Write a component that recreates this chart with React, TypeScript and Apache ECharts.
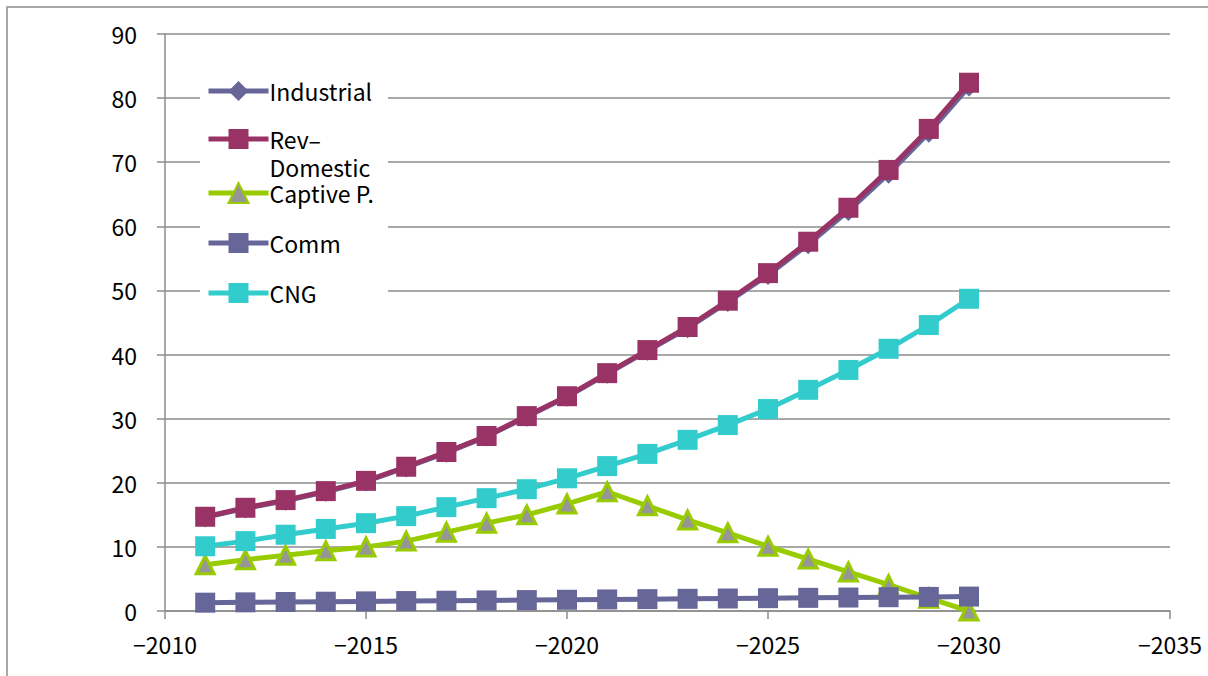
import React, { useEffect, useRef } from "react";
import * as echarts from "echarts";

const years = [2011, 2012, 2013, 2014, 2015, 2016, 2017, 2018, 2019, 2020, 2021, 2022, 2023, 2024, 2025, 2026, 2027, 2028, 2029, 2030];

const revDomestic = [14.7, 16.1, 17.3, 18.7, 20.3, 22.5, 24.8, 27.3, 30.4, 33.5, 37.1, 40.7, 44.3, 48.4, 52.7, 57.6, 62.9, 68.8, 75.2, 82.4];
const industrial = [14.6, 16.0, 17.2, 18.6, 20.2, 22.4, 24.7, 27.2, 30.3, 33.4, 37.0, 40.6, 44.1, 48.2, 52.4, 57.2, 62.4, 68.2, 74.6, 81.8];
const captive = [7.2, 8.0, 8.7, 9.4, 10.0, 10.9, 12.3, 13.7, 15.0, 16.7, 18.6, 16.4, 14.2, 12.2, 10.1, 8.1, 6.1, 4.1, 2.0, 0];
const comm = [1.3, 1.35, 1.4, 1.45, 1.5, 1.55, 1.6, 1.65, 1.7, 1.75, 1.8, 1.85, 1.9, 1.95, 2.0, 2.05, 2.1, 2.15, 2.2, 2.25];
const cng = [10.1, 10.9, 11.9, 12.8, 13.7, 14.8, 16.2, 17.6, 19.0, 20.7, 22.6, 24.5, 26.7, 29.0, 31.5, 34.5, 37.6, 40.9, 44.6, 48.7];

const seriesNames = ["Industrial", "Rev–\nDomestic", "Captive P.", "Comm", "CNG"];
// top offset and line height of each legend entry; the wrapped label gets a
// blank leading line so that its first line sits level with the icon
const legendTops = [78, 97, 180, 230, 280];
const legendLineHeights = [26, 28, 26, 26, 26];

const FONT = "'Noto Sans CJK JP', 'Noto Sans', sans-serif";

const pairs = (vals: number[]) => years.map((y, i) => [y, vals[i]]);

export default function App() {
  const ref = useRef<HTMLDivElement>(null);

  useEffect(() => {
    if (!ref.current) return;
    const chart = echarts.init(ref.current, null, { renderer: "svg" });

    const lineSeries = (
      name: string,
      vals: number[],
      color: string,
      symbol: string,
      symbolSize: number,
      fill?: string
    ) => ({
      name,
      type: "line",
      data: pairs(vals),
      symbol,
      symbolSize,
      lineStyle: { color, width: 5 },
      itemStyle: fill
        ? { color: fill, borderColor: color, borderWidth: 3 }
        : { color, borderWidth: 0 },
      emphasis: { disabled: true },
    });

    chart.setOption({
      animation: false,
      backgroundColor: "#ffffff",
      textStyle: { fontFamily: FONT },
      grid: { left: 165, right: 38, top: 34, bottom: 65, containLabel: false },
      graphic: [
        {
          type: "rect",
          z: -10,
          shape: { x: 7, y: 7, width: 1220, height: 700 },
          style: { fill: "none", stroke: "#8c8c8c", lineWidth: 1.5 },
          silent: true,
        },
        {
          type: "rect",
          z: 1,
          shape: { x: 200, y: 64, width: 188, height: 254 },
          style: { fill: "#ffffff" },
          silent: true,
        },
      ],
      legend: seriesNames.map((n, i) => ({
        data: [n],
        orient: "vertical",
        left: 206,
        top: legendTops[i],
        itemWidth: 60,
        itemHeight: 25,
        itemGap: 0,
        padding: 0,
        selectedMode: false,
        lineStyle: { width: 5 },
        formatter: (name: string) => (name.includes("\n") ? "\n" + name : name),
        textStyle: {
          fontFamily: FONT,
          fontSize: 23,
          color: "#000",
          padding: [0, 0, 0, -4],
          lineHeight: legendLineHeights[i],
        },
      })),
      xAxis: {
        type: "value",
        min: 2010,
        max: 2035,
        interval: 5,
        axisLine: { show: true, lineStyle: { color: "#8c8c8c", width: 1.5 } },
        axisTick: { show: true, inside: false, length: 8, lineStyle: { color: "#8c8c8c", width: 1.5 } },
        splitLine: { show: false },
        axisLabel: {
          fontFamily: FONT,
          fontSize: 23,
          color: "#000",
          margin: 21,
          formatter: (v: number) => "−" + v,
        },
      },
      yAxis: {
        type: "value",
        min: 0,
        max: 90,
        interval: 10,
        axisLine: { show: true, lineStyle: { color: "#8c8c8c", width: 1.5 } },
        axisTick: { show: true, inside: false, length: 8, lineStyle: { color: "#8c8c8c", width: 1.5 } },
        splitLine: { show: true, lineStyle: { color: "#8c8c8c", width: 1.5 } },
        axisLabel: { fontFamily: FONT, fontSize: 23, color: "#000", margin: 28 },
      },
      series: [
        lineSeries(seriesNames[0], industrial, "#666699", "diamond", 20),
        lineSeries(seriesNames[1], revDomestic, "#993366", "rect", 20),
        lineSeries(seriesNames[2], captive, "#99cc00", "triangle", 18, "#969696"),
        lineSeries(seriesNames[3], comm, "#666699", "rect", 20),
        lineSeries(seriesNames[4], cng, "#33cccc", "rect", 20),
      ],
    });

    return () => chart.dispose();
  }, []);

  return (
    <div
      ref={ref}
      style={{ position: "fixed", left: 0, top: 0, width: 1208, height: 676 }}
    />
  );
}
